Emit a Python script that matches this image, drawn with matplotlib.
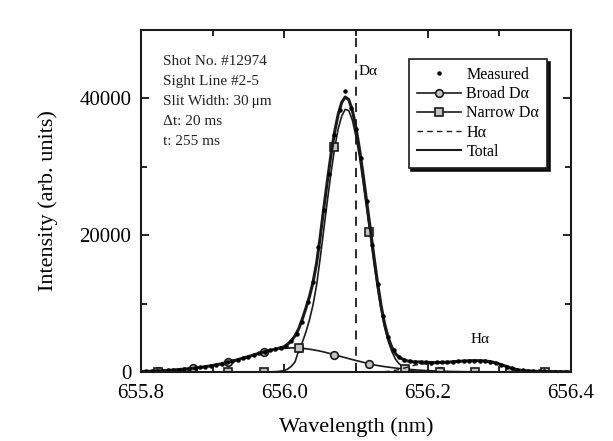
import matplotlib
matplotlib.use("Agg")
import matplotlib.pyplot as plt
from matplotlib.lines import Line2D
from matplotlib.ticker import MultipleLocator, FormatStrFormatter

plt.rcParams['font.family'] = ['Liberation Serif', 'DejaVu Serif']

# ---- curve grid (nm) ----
curve_wl = [655.80, 655.81, 655.82, 655.83, 655.84, 655.85, 655.86, 655.87, 655.88, 655.89,
            655.90, 655.91, 655.92, 655.93, 655.94, 655.95, 655.96, 655.97, 655.98, 655.99,
            656.00, 656.005, 656.01, 656.015, 656.02, 656.025, 656.03, 656.035, 656.04, 656.045,
            656.05, 656.055, 656.06, 656.065, 656.07, 656.075, 656.08, 656.085, 656.09, 656.095,
            656.10, 656.105, 656.11, 656.115, 656.12, 656.125, 656.13, 656.135, 656.14, 656.145,
            656.15, 656.155, 656.16, 656.17, 656.18, 656.19, 656.20, 656.21, 656.22, 656.23,
            656.24, 656.25, 656.26, 656.27, 656.28, 656.29, 656.30, 656.31, 656.32, 656.33,
            656.34, 656.35, 656.36, 656.37, 656.38, 656.39, 656.40]

total = [60, 90, 130, 180, 250, 330, 420, 510, 620, 780,
         950, 1150, 1380, 1650, 1950, 2250, 2580, 2880, 3150, 3400,
         3700, 4100, 4600, 5300, 6300, 7700, 9300, 11000, 13100, 15900,
         19700, 23900, 27900, 31700, 35000, 37600, 39400, 40200, 39800, 38200,
         35700, 32500, 28800, 24800, 20900, 16900, 13100, 9700, 7000, 5000,
         3600, 2700, 2150, 1650, 1480, 1460, 1400, 1390, 1400, 1450,
         1540, 1600, 1650, 1660, 1610, 1460, 1160, 810, 450, 250,
         150, 100, 80, 60, 50, 40, 30]

broad = [60, 90, 130, 180, 250, 330, 420, 510, 620, 780,
         950, 1150, 1380, 1650, 1950, 2250, 2580, 2880, 3130, 3330,
         3450, 3490, 3520, 3520, 3500, 3460, 3400, 3330, 3250, 3150,
         3050, 2930, 2800, 2660, 2520, 2380, 2230, 2090, 1950, 1810,
         1680, 1550, 1420, 1280, 1150, 1050, 950, 860, 780, 710,
         640, 580, 520, 420, 330, 260, 200, 150, 110, 80,
         60, 40, 30, 20, 15, 10, 10, 10, 5, 5,
         5, 0, 0, 0, 0, 0, 0]

narrow = [0, 0, 0, 0, 0, 0, 0, 0, 0, 0,
          0, 0, 0, 0, 0, 0, 0, 0, 20, 60,
          200, 450, 850, 1500, 3100, 4300, 5800, 7600, 9800, 12700,
          16600, 20800, 25000, 29000, 32600, 35500, 37400, 38400, 38200, 36800,
          34400, 31400, 27700, 23800, 19900, 16000, 12300, 9100, 6500, 4500,
          3000, 1900, 1200, 500, 150, 50, 0, 0, 0, 0,
          0, 0, 0, 0, 0, 0, 0, 0, 0, 0,
          0, 0, 0, 0, 0, 0, 0]

halpha = [0, 0, 0, 0, 0, 0, 0, 0, 0, 0,
          0, 0, 0, 0, 0, 0, 0, 0, 0, 0,
          0, 0, 0, 0, 0, 0, 0, 0, 0, 0,
          0, 0, 0, 0, 0, 0, 0, 0, 0, 0,
          0, 0, 0, 0, 0, 0, 0, 0, 50, 90,
          150, 240, 350, 650, 950, 1150, 1200, 1230, 1280, 1370,
          1480, 1560, 1620, 1630, 1580, 1440, 1140, 790, 440, 240,
          140, 90, 70, 50, 40, 35, 30]

# ---- fitted-component marker positions ----
marker_wl = [655.824, 655.873, 655.922, 655.971, 656.020, 656.069,
             656.118, 656.168, 656.217, 656.266, 656.315, 656.364]
broad_marks = [120, 540, 1500, 2980, 3470, 2490, 1130, 430, 110, 20, 5, 0]
narrow_marks = [0, 0, 0, 0, 3470, 32900, 20400, 500, 0, 0, 0, 0]

# ---- measured data ----
meas_wl = [655.8000, 655.8075, 655.8150, 655.8225, 655.8300, 655.8375, 655.8450, 655.8525,
           655.8600, 655.8675, 655.8750, 655.8825, 655.8900, 655.8975, 655.9050, 655.9125,
           655.9200, 655.9275, 655.9350, 655.9425, 655.9500, 655.9575, 655.9650, 655.9725,
           655.9800, 655.9875, 655.9950, 656.0025, 656.0100, 656.0175, 656.0250, 656.0325,
           656.0400, 656.0475, 656.0550, 656.0625, 656.0700, 656.0775, 656.0850, 656.0925,
           656.1000, 656.1075, 656.1150, 656.1225, 656.1300, 656.1375, 656.1450, 656.1525,
           656.1600, 656.1675, 656.1750, 656.1825, 656.1900, 656.1975, 656.2050, 656.2125,
           656.2200, 656.2275, 656.2350, 656.2425, 656.2500, 656.2575, 656.2650, 656.2725,
           656.2800, 656.2875, 656.2950, 656.3025, 656.3100, 656.3175, 656.3250, 656.3325,
           656.3400, 656.3475, 656.3550, 656.3625, 656.3700, 656.3775, 656.3850, 656.3925,
           656.4000]
meas_val = [70, 80, 110, 150, 190, 230, 300, 350,
            430, 490, 560, 660, 790, 910, 1060, 1200,
            1400, 1580, 1800, 2050, 2250, 2520, 2750, 2980,
            3200, 3380, 3560, 3850, 4500, 5600, 7300, 10200,
            13200, 18300, 23700, 28900, 34600, 38300, 41100, 38600,
            35500, 31300, 25000, 18500, 12800, 8200, 5100, 3200,
            2200, 1750, 1550, 1470, 1440, 1400, 1380, 1400,
            1420, 1440, 1500, 1560, 1600, 1640, 1660, 1670,
            1610, 1500, 1320, 1070, 800, 540, 350, 230,
            150, 110, 90, 80, 60, 50, 45, 40,
            30]

dalpha_wl = 656.1

info_lines = ["Shot No. #12974", "Sight Line #2-5", "Slit Width: 30\u2009\u03bcm",
              "\u0394t: 20 ms", "t: 255 ms"]

fig = plt.figure(figsize=(6.13, 4.41), dpi=100)
ax = fig.add_axes([0.230, 0.1565, 0.7015, 0.7755])

dark = '#1a1a1a'
mfc = '#c4c4c4'
ax.plot(curve_wl, broad, color=dark, lw=1.2)
ax.plot(marker_wl, broad_marks, linestyle='none', marker='o', ms=5.5,
        mfc=mfc, mec=dark, mew=1.2)
ax.plot(curve_wl, narrow, color=dark, lw=1.2)
ax.plot(marker_wl, narrow_marks, linestyle='none', marker='s', ms=5.5,
        mfc=mfc, mec=dark, mew=1.2)
ax.plot(curve_wl, halpha, color=dark, lw=1.0, linestyle=(0, (4, 3)))
ax.plot(curve_wl, total, color=dark, lw=2.2)
ax.plot(meas_wl, meas_val, linestyle='none', marker='o', ms=2.2, color='black')
ax.axvline(dalpha_wl, color=dark, lw=1.3, linestyle=(0, (5, 4)))

ax.set_xlim(655.8, 656.4)
ax.set_ylim(0, 50000)
ax.xaxis.set_major_locator(MultipleLocator(0.2))
ax.xaxis.set_minor_locator(MultipleLocator(0.1))
ax.yaxis.set_major_locator(MultipleLocator(20000))
ax.yaxis.set_minor_locator(MultipleLocator(10000))
ax.xaxis.set_major_formatter(FormatStrFormatter('%.1f'))
ax.tick_params(which='both', direction='in', top=True, right=True, labelsize=15, width=1.2)
ax.tick_params(which='major', length=6)
ax.tick_params(which='minor', length=4)
ax.tick_params(axis='x', which='major', pad=9)
ax.tick_params(axis='y', which='major', pad=7)
for s in ax.spines.values():
    s.set_linewidth(1.5)
    s.set_color(dark)

ax.set_xlabel("Wavelength (nm)", fontsize=16, labelpad=10)
ax.set_ylabel("Intensity (arb. units)", fontsize=16, labelpad=15)

for i, t in enumerate(info_lines):
    ax.text(0.052, 0.927 - i * 0.0585, t, transform=ax.transAxes, fontsize=11,
            va='top', ha='left', color='#222222',
            family=['Liberation Serif', 'DejaVu Serif'])

ax.text(dalpha_wl + 0.004, 44000, "D\u03b1", fontsize=11, va='center', ha='left')
ax.text(656.26, 4700, "H\u03b1", fontsize=11, va='center', ha='left')

handles = [
    Line2D([], [], linestyle='none', marker='o', ms=2.2, color='black'),
    Line2D([], [], color=dark, lw=1.2, marker='o', ms=5.5, mfc=mfc, mec=dark, mew=1.2),
    Line2D([], [], color=dark, lw=1.2, marker='s', ms=5.5, mfc=mfc, mec=dark, mew=1.2),
    Line2D([], [], color=dark, lw=1.0, linestyle=(0, (4, 3))),
    Line2D([], [], color=dark, lw=1.5),
]
labels = ["Measured", "Broad D\u03b1", "Narrow D\u03b1", "H\u03b1", "Total"]
leg = ax.legend(handles, labels, loc='upper right', bbox_to_anchor=(0.944, 0.915),
                borderaxespad=0.0,
                fontsize=11.5, handlelength=2.8, handletextpad=0.3, labelspacing=0.2,
                borderpad=0.5, fancybox=False, frameon=True, edgecolor=dark,
                shadow={'color': 'black', 'alpha': 0.9})
leg.get_frame().set_linewidth(1.2)

fig.savefig("out.png", dpi=100)
